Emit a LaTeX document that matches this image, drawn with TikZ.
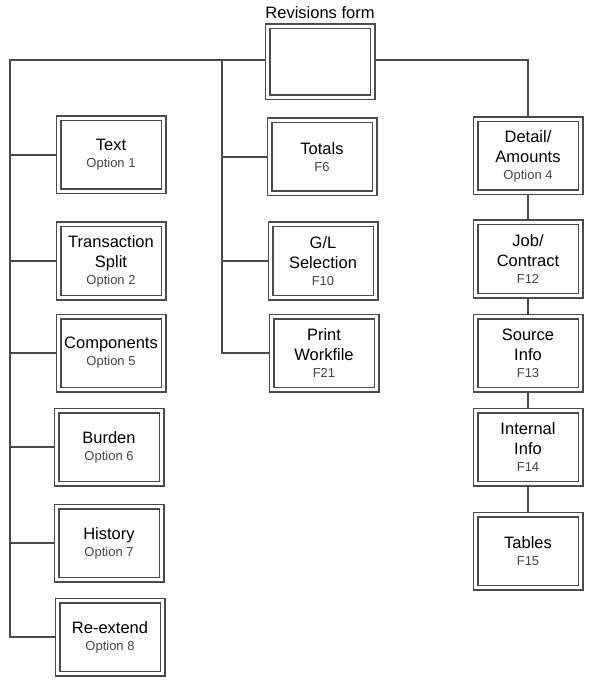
\documentclass[tikz,border=0pt]{standalone}
\usepackage{fontspec}
\setmainfont{Liberation Sans}
\usetikzlibrary{positioning}
\definecolor{linegray}{RGB}{75,75,75}
\definecolor{subgray}{RGB}{70,70,70}
\newcommand{\optxt}[1]{{\fontsize{13}{15}\selectfont\color{subgray}#1}}

\begin{document}
\begin{tikzpicture}[x=1pt,y=-1pt,
    form/.style={draw=linegray,double=white,double distance=3.6pt,line width=1.2pt,
                 minimum width=105pt,minimum height=73pt,outer sep=3pt,
                 inner sep=0pt,align=center,font=\fontsize{16.5}{20}\selectfont,
                 execute at begin node=\rule{0pt}{20pt}},
    link/.style={draw=linegray,line width=1.2pt}
]
  \useasboundingbox (0,0) rectangle (595,684);

  % Top form
  \node[form,minimum height=71pt,execute at begin node={}] (rev) at (320,62) {};
  \node[anchor=base,font=\fontsize{16.5}{20}\selectfont] (revlbl) at (320,19) {Revisions form};

  % Left column (options)
  \node[form] (text)   at (111,155) {Text\\[-3pt]\optxt{Option 1}};
  \node[form] (split)  at (111,261) {Transaction\\Split\\[-3pt]\optxt{Option 2}};
  \node[form] (comp)   at (111,353) {Components\\[-3pt]\optxt{Option 5}};
  \node[form] (burden) at (109,447) {Burden\\[-3pt]\optxt{Option 6}};
  \node[form] (hist)   at (109,543) {History\\[-3pt]\optxt{Option 7}};
  \node[form] (rext)   at (110,637) {Re-extend\\[-3pt]\optxt{Option 8}};

  % Middle column (function keys)
  \node[form] (totals) at (322,157) {Totals\\[-3pt]\optxt{F6}};
  \node[form] (glsel)  at (323,261) {G/L\\Selection\\[-3pt]\optxt{F10}};
  \node[form] (print)  at (324,353) {Print\\Workfile\\[-3pt]\optxt{F21}};

  % Right column (detail chain)
  \node[form] (detail)   at (528,156) {Detail/\\Amounts\\[-3pt]\optxt{Option 4}};
  \node[form] (job)      at (528,259) {Job/\\Contract\\[-3pt]\optxt{F12}};
  \node[form] (source)   at (528,353) {Source\\Info\\[-3pt]\optxt{F13}};
  \node[form] (internal) at (528,447) {Internal\\Info\\[-3pt]\optxt{F14}};
  \node[form] (tables)   at (528,551) {Tables\\[-3pt]\optxt{F15}};

  % Trunks
  \coordinate (ltrunk) at (10,60);
  \coordinate (mtrunk) at (222,60);
  \coordinate (rtrunk) at (528,60);

  % Connectors
  \draw[link] (rev.west |- ltrunk) -- (ltrunk) -- (ltrunk |- rext.west) -- (rext.west);
  \foreach \n in {text,split,comp,burden,hist}
    \draw[link] (ltrunk |- \n.west) -- (\n.west);
  \draw[link] (mtrunk) -- (mtrunk |- print.west) -- (print.west);
  \foreach \n in {totals,glsel}
    \draw[link] (mtrunk |- \n.west) -- (\n.west);
  \draw[link] (rev.east |- rtrunk) -- (rtrunk) -- (detail.north);
  \draw[link] (detail) -- (job);
  \draw[link] (job) -- (source);
  \draw[link] (source) -- (internal);
  \draw[link] (internal) -- (tables);
\end{tikzpicture}
\end{document}
